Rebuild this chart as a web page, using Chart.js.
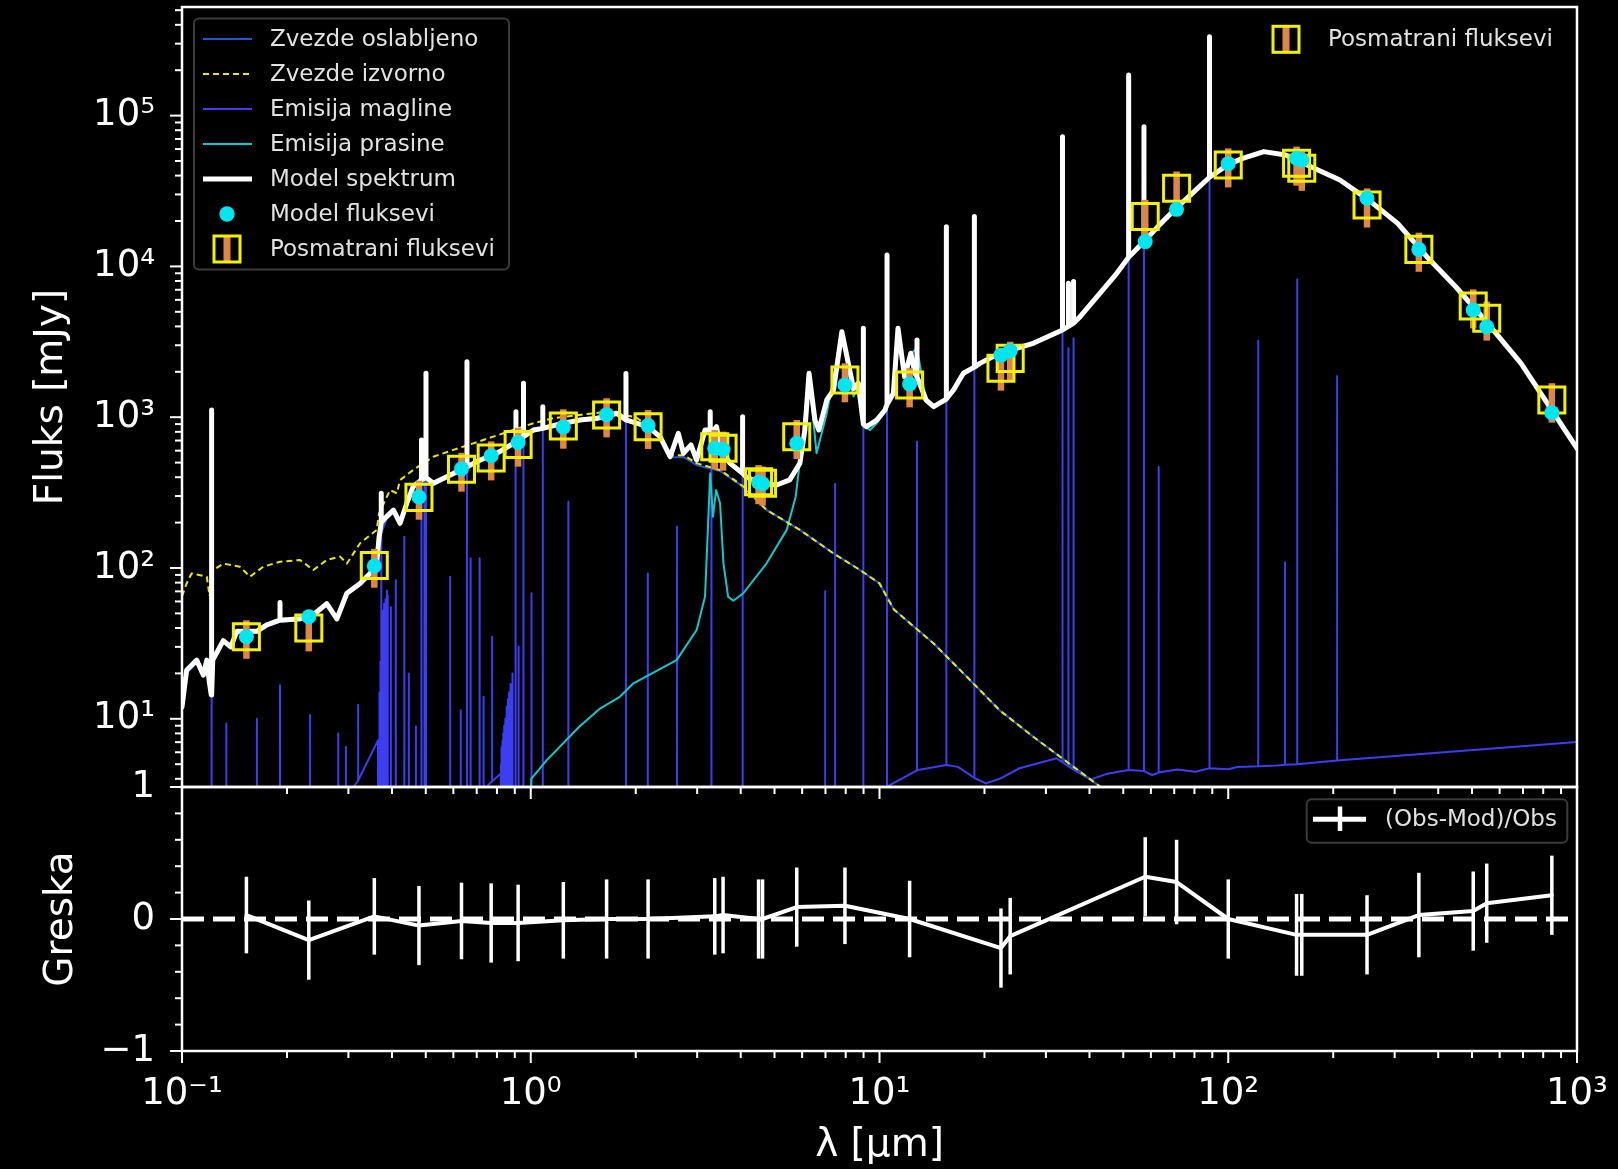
<!DOCTYPE html>
<html>
<head>
<meta charset="utf-8">
<title>SED</title>
<script src="https://cdn.jsdelivr.net/npm/chart.js@4.4.1/dist/chart.umd.min.js"></script>
<style>
  html, body { margin: 0; padding: 0; background: #000; }
  #wrap { position: relative; width: 1618px; height: 1169px; background: #000; overflow: hidden; }
  #sed { position: absolute; left: 0; top: 0; }
  #res { position: absolute; left: 0; top: 760px; }
</style>
</head>
<body>
<div id="wrap">
  <canvas id="sed" width="1618" height="800"></canvas>
  <canvas id="res" width="1618" height="409"></canvas>
</div>
<script>
const FAMILY = '"DejaVu Sans", "Liberation Sans", sans-serif';

// fotometrija: talasne duzine [um], posmatrano, model, greske
const obsLam   = [0.153, 0.231, 0.356, 0.478, 0.633, 0.77, 0.92, 1.24, 1.65, 2.17, 3.37, 3.56, 4.5, 4.62, 5.79, 7.96, 12.2, 22.3, 23.7, 57.8, 71.1, 100, 157, 162.5, 250, 352, 504, 551, 847];
const obsFlux  = [35, 40, 104, 294, 451, 536, 660, 873, 1035, 865, 637, 622, 373, 365, 743, 1766, 1637, 2110, 2455, 21400, 33000, 47000, 48300, 44700, 25500, 12970, 5460, 4530, 1300];
const obsErr   = [10, 12, 30, 85, 130, 155, 190, 255, 300, 250, 185, 180, 108, 106, 215, 510, 475, 610, 710, 6200, 9600, 13600, 14000, 13000, 7400, 3760, 1580, 1310, 380];
const modFlux  = [35, 47.5, 103, 296, 455, 555, 680, 860, 1040, 880, 622, 610, 370, 362, 671, 1637, 1660, 2580, 2760, 14600, 23900, 48000, 52100, 50800, 28300, 12970, 5140, 3980, 1072];

// (Obs-Mod)/Obs
const resVal = [0.03, -0.16, 0.02, -0.05, -0.015, -0.03, -0.03, -0.01, 0.0, 0.0, 0.02, 0.03, 0.0, 0.0, 0.09, 0.10, 0.0, -0.22, -0.13, 0.32, 0.28, 0.0, -0.12, -0.12, -0.12, 0.03, 0.06, 0.12, 0.18];
const resErr = [0.29, 0.30, 0.29, 0.30, 0.29, 0.30, 0.29, 0.29, 0.30, 0.30, 0.29, 0.29, 0.30, 0.30, 0.30, 0.29, 0.29, 0.30, 0.29, 0.30, 0.32, 0.30, 0.31, 0.31, 0.30, 0.32, 0.30, 0.30, 0.30];
const zeroLam = [0.1, 1000];
const zeroVal = [0, 0];

// model spektrum: kontinuum + linije
const modelContLam  = [0.1, 0.1031, 0.1102, 0.1151, 0.1178, 0.1197, 0.1213, 0.1225, 0.1313, 0.138, 0.1436, 0.1638, 0.175, 0.19, 0.218, 0.238, 0.26, 0.278, 0.297, 0.324, 0.346, 0.3616, 0.3675, 0.386, 0.404, 0.422, 0.441, 0.46, 0.5256, 0.574, 0.716, 0.80, 1.017, 1.13, 1.24, 1.38, 1.55, 1.764, 2.17, 2.35, 2.51, 2.65, 2.74, 2.88, 2.99, 3.16, 3.35, 3.41, 3.49, 3.73, 4.14, 4.54, 5.07, 5.53, 5.91, 6.11, 6.28, 6.53, 6.7, 7.06, 7.38, 7.8, 8.42, 8.69, 9.18, 9.82, 10.37, 10.96, 11.3, 11.8, 12.3, 12.64, 13.0, 13.6, 14.3, 16.3, 17.4, 19.4, 22.1, 27.6, 37.6, 42.9, 47.9, 63.7, 71.1, 79.4, 100, 110, 126.5, 146, 172.6, 209, 253, 306, 371, 449, 544, 691, 1000];
const modelContFlux = [12, 21, 24.5, 19.5, 24.5, 17.8, 14.4, 24.5, 33, 30, 38, 38, 42, 45, 46, 49, 58, 46, 68, 79, 92, 107, 161, 219, 242, 198, 268, 347, 365, 403, 520, 577, 822, 865, 912, 957, 984, 1062, 865, 741, 547, 782, 577, 655, 520, 822, 822, 865, 622, 494, 403, 365, 355, 384, 494, 822, 1955, 957, 822, 1300, 1514, 3690, 1550, 1680, 865, 957, 1117, 1439, 3890, 1854, 2655, 1955, 1700, 1300, 1175, 1514, 1955, 2275, 2655, 3090, 4645, 6637, 9000, 19000, 24500, 31000, 47500, 52000, 57700, 54800, 45800, 37400, 27500, 19300, 11600, 7330, 4420, 2275, 622];
const modelLineLam  = [0.1216, 0.191, 0.3727, 0.4861, 0.5007, 0.6563, 0.9069, 0.9531, 1.083, 1.875, 3.27, 4.05, 8.99, 10.51, 12.81, 15.55, 18.71, 33.48, 34.81, 36.01, 51.81, 57.32, 88.36];
const modelLineBase = [14.4, 45, 200, 384, 398, 470, 687, 743, 843, 960, 822, 425, 900, 1220, 1850, 1320, 2150, 3790, 4000, 4200, 11500, 14600, 39000];
const modelLinePeak = [1117, 59, 313, 706, 1955, 2335, 1087, 1680, 1175, 1950, 1087, 1007, 3890, 11900, 3250, 18300, 21400, 72400, 7730, 7940, 186000, 84300, 333000];

// zvezde oslabljeno
const attLam  = [0.1, 0.1031, 0.1102, 0.1151, 0.1178, 0.1197, 0.1216, 0.1225, 0.1313, 0.138, 0.1436, 0.1638, 0.175, 0.191, 0.218, 0.238, 0.26, 0.278, 0.297, 0.324, 0.346, 0.3616, 0.3675, 0.386, 0.404, 0.422, 0.441, 0.46, 0.4861, 0.5256, 0.574, 0.6563, 0.716, 0.80, 0.907, 0.953, 1.017, 1.13, 1.24, 1.38, 1.55, 1.764, 1.875, 2.17, 2.35, 2.51, 2.74, 3.0, 3.49, 4.07, 4.74, 5.91, 7.38, 8.79, 10, 11, 14.3, 17.8, 22.1, 27.6, 34.4, 42.9, 60, 1000];
const attFlux = [11.5, 20, 23.5, 19, 23.5, 17, 14, 23.5, 32, 29, 37, 37, 41, 44, 45, 47.5, 56, 45, 66, 77, 90, 104, 155, 212, 235, 192, 260, 337, 372, 355, 392, 455, 505, 560, 665, 720, 800, 845, 890, 935, 962, 1035, 940, 845, 725, 540, 545, 480, 440, 345, 243, 179, 125, 97, 79, 53, 31.6, 19, 11.4, 7.6, 5.2, 3.55, 1.6, 0.005];

// zvezde izvorno
const unLam  = [0.1, 0.1031, 0.1065, 0.1178, 0.12, 0.123, 0.1313, 0.1466, 0.1566, 0.171, 0.191, 0.218, 0.238, 0.26, 0.284, 0.297, 0.324, 0.3616, 0.3675, 0.395, 0.413, 0.422, 0.46, 0.5256, 0.60, 0.684, 0.781, 0.89, 1.017, 1.16, 1.38, 1.65, 2.0, 2.17, 2.35, 2.51, 2.74, 3.0, 3.49, 4.07, 4.74, 5.91, 7.38, 8.79, 10, 11, 14.3, 17.8, 22.1, 27.6, 34.4, 42.9, 60, 1000];
const unFlux = [65, 79, 92, 87.5, 65, 97, 107, 102, 87.5, 102, 110, 113, 97, 113, 119, 107, 146, 179, 231, 329, 313, 383, 447, 547, 607, 671, 743, 822, 912, 984, 1035, 1087, 1000, 880, 750, 560, 560, 494, 447, 347, 243, 179, 125, 97, 79, 53, 31.6, 19, 11.4, 7.6, 5.2, 3.55, 1.6, 0.005];

// emisija prasine
const dustLam  = [1.0, 1.003, 1.11, 1.38, 1.58, 1.80, 1.97, 2.62, 2.99, 3.16, 3.22, 3.27, 3.33, 3.40, 3.49, 3.57, 3.68, 3.81, 4.07, 4.74, 5.42, 5.75, 5.98, 6.11, 6.28, 6.6, 7.06, 7.8, 8.42, 8.69, 9.06, 9.4, 9.82, 10.37, 10.96, 11.3, 11.8, 12.3, 12.8, 13.6, 14.3, 15.55, 16.3, 17.4, 19.4, 22.1, 27.6, 33.5, 37.6, 42.9, 47.9, 51.8, 57.3, 63.7, 71.1, 79.4, 88.4, 100, 110, 126.5, 146, 172.6, 209, 253, 306, 371, 449, 544, 691, 1000];
const dustFlux = [1.5, 4.0, 5.3, 8.9, 11.7, 14, 17.2, 24.5, 38.8, 64.6, 179, 425, 219, 329, 269, 107, 64.6, 60.7, 68, 107, 179, 297, 638, 1040, 1850, 577, 1062, 3550, 1370, 1600, 865, 822, 912, 1090, 1410, 3830, 1820, 2600, 2900, 1280, 1160, 1300, 1500, 1940, 2260, 2640, 3080, 3770, 4630, 6620, 8980, 11450, 14550, 18950, 24450, 30950, 38950, 47450, 51950, 57650, 54750, 45750, 37350, 27450, 19250, 11550, 7300, 4400, 2265, 620];

// emisija magline: kontinuum + linije
const nebContLam  = [0.1, 0.29, 0.3097, 0.3646, 0.3650, 0.72, 0.755, 0.8204, 0.8210, 10.4, 13.0, 16.8, 20.2, 22.1, 25.2, 32.2, 40.3, 44.6, 60.5, 71.5, 80.5, 100, 106, 138, 1000];
const nebContFlux = [1, 2.5, 3.5, 7.2, 1, 2.6, 3.64, 4.33, 1, 1, 4.6, 4.8, 3.73, 4.0, 4.7, 5.47, 3.95, 4.3, 4.24, 4.61, 4.45, 4.63, 4.79, 4.9, 7.03];
const nebLineLam  = [0.1216, 0.134, 0.164, 0.191, 0.233, 0.2806, 0.2952, 0.320, 0.3660, 0.3664, 0.3669, 0.3676, 0.3683, 0.3692, 0.3704, 0.3712, 0.3722, 0.3727, 0.3734, 0.3750, 0.3771, 0.3798, 0.3835, 0.3869, 0.3889, 0.3970, 0.4102, 0.4340, 0.4471, 0.4686, 0.4861, 0.4959, 0.5007, 0.5876, 0.6300, 0.6563, 0.6724, 0.7136, 0.7325, 0.7751, 0.8215, 0.8225, 0.8240, 0.8265, 0.8300, 0.8345, 0.8395, 0.8455, 0.8530, 0.8600, 0.8670, 0.8750, 0.8865, 0.9016, 0.9069, 0.9229, 0.9531, 1.005, 1.083, 1.282, 1.875, 2.166, 2.626, 3.297, 4.052, 6.985, 7.46, 8.99, 10.51, 12.81, 15.55, 18.71, 33.48, 34.81, 36.01, 51.81, 57.32, 63.18, 88.36, 121.9, 145.5, 157.7, 205.2];
const nebLineBase = [1, 1, 1, 1, 1, 1, 1, 3.9, 1, 1, 1, 1, 1, 1, 1, 1, 1, 1, 1, 1, 1, 1, 1, 1, 1, 1, 1, 1, 1, 1, 1, 1, 1, 1, 1, 1, 1, 1, 3.0, 3.85, 1, 1, 1, 1, 1, 1, 1, 1, 1, 1, 1, 1, 1, 1, 1, 1, 1, 1, 1, 1, 1, 1, 1, 1, 1, 1, 1, 1, 3.55, 4.55, 4.94, 4.05, 5.15, 4.85, 4.6, 4.58, 4.5, 4.4, 4.7, 4.85, 4.95, 5.0, 5.3];
const nebLinePeak = [1117, 9.3, 10, 16.7, 10.6, 8, 6.5, 12.4, 4.5, 5.5, 7, 9, 12, 15, 19, 24, 30, 313, 38, 45, 52, 58, 62, 71, 66, 55, 83, 161, 20, 8.9, 706, 650, 1955, 87.5, 11.4, 2335, 116, 116, 14, 35, 5, 5.5, 6, 6.5, 7.2, 8, 9, 10, 12, 13.5, 15, 17, 20, 25, 1087, 30, 1680, 68, 1175, 275, 1950, 92, 188, 1050, 1007, 70, 360, 3500, 11900, 690, 18300, 21400, 72400, 2870, 3340, 186000, 84300, 470, 333000, 3210, 109, 8200, 1875];

// ose
const xTickValues = [0.1, 1, 10, 100, 1000];
const xTickLabels = ['10⁻¹', '10⁰', '10¹', '10²', '10³'];
const yTickValues = [10, 100, 1000, 10000, 100000];
const yTickLabels = ['10¹', '10²', '10³', '10⁴', '10⁵'];
const resTickValues = [-1, 0, 1];
const resTickLabels = ['−1', '0', '1'];
const resMinorTicks = [-0.8, -0.6, -0.4, -0.2, 0.2, 0.4, 0.6, 0.8];

const Y_MIN = 3.53, Y_MAX = 5.25e5;


function pairs(xs, ys) {
    return xs.map((x, i) => ({ x, y: ys[i] }));
}

// kontinuum + uske linije (svaka linija: osnova, vrh, osnova)
function withLines(cLam, cFlux, lLam, lBase, lPeak) {
    const pts = pairs(cLam, cFlux);
    lLam.forEach((l, i) => {
        pts.push({ x: l, y: lBase[i] }, { x: l, y: lPeak[i] }, { x: l, y: lBase[i] });
    });
    return pts.sort((a, b) => a.x - b.x);
}

function logMinors(lo, hi, min, max) {
    const out = [];
    for (let d = lo; d < hi * 1.001; d *= 10) {
        for (let m = 2; m < 10; m++) {
            const v = d * m;
            if (v > min && v < max) out.push(v);
        }
    }
    return out;
}

const C = {
    neb: '#3d3df2',
    att: '#1f55d0',
    dust: '#12c8cb',
    unatt: '#e8e800',
    model: '#ffffff',
    square: '#f2f200',
    errBar: '#dc8648',
    dot: '#00e6f0',
    text: '#e2e2e2',
    frame: '#3a3a3a'
};

const lineDs = { showLine: true, pointRadius: 0, pointHoverRadius: 0, tension: 0, fill: false, clip: 0,
                 borderJoinStyle: 'round', borderCapStyle: 'round' };


// okvir i podeoci
function makeFrame(xMajor, xMinor, yMajor, yMinor) {
    return {
        id: 'frameTicks',
        afterDraw(chart) {
            const { ctx, chartArea: a, scales } = chart;
            ctx.save();
            ctx.strokeStyle = '#fff';
            ctx.lineWidth = 2;
            ctx.lineCap = 'butt';
            const tick = (x0, y0, x1, y1) => {
                ctx.beginPath(); ctx.moveTo(x0, y0); ctx.lineTo(x1, y1); ctx.stroke();
            };
            xMajor.forEach(v => { const p = scales.x.getPixelForValue(v); tick(p, a.bottom, p, a.bottom + 12); });
            xMinor.forEach(v => { const p = scales.x.getPixelForValue(v); tick(p, a.bottom, p, a.bottom + 7); });
            yMajor.forEach(v => { const p = scales.y.getPixelForValue(v); tick(a.left, p, a.left - 12, p); });
            yMinor.forEach(v => { const p = scales.y.getPixelForValue(v); tick(a.left, p, a.left - 7, p); });
            ctx.lineWidth = 2.5;
            ctx.strokeRect(a.left, a.top, a.right - a.left, a.bottom - a.top);
            ctx.restore();
        }
    };
}

const errorBars = {
    id: 'errorBars',
    beforeDatasetDraw(chart, args) {
        const ds = chart.data.datasets[args.index];
        if (!ds.errors) return;
        const ctx = chart.ctx, a = chart.chartArea;
        const xs = chart.scales[args.meta.xAxisID], ys = chart.scales[args.meta.yAxisID];
        ctx.save();
        ctx.beginPath();
        ctx.rect(a.left, a.top, a.right - a.left, a.bottom - a.top);
        ctx.clip();
        ctx.strokeStyle = ds.errorColor;
        ctx.lineWidth = ds.errorWidth;
        ds.data.forEach((p, i) => {
            const px = xs.getPixelForValue(p.x);
            ctx.beginPath();
            ctx.moveTo(px, ys.getPixelForValue(p.y - ds.errors[i]));
            ctx.lineTo(px, ys.getPixelForValue(p.y + ds.errors[i]));
            ctx.stroke();
        });
        ctx.restore();
    }
};

function drawObsMarker(ctx, x, y) {
    ctx.fillStyle = C.errBar;
    ctx.fillRect(x - 3.5, y - 13, 7, 26);
    ctx.strokeStyle = C.square;
    ctx.lineWidth = 3;
    ctx.strokeRect(x - 13, y - 13, 26, 26);
}

const sedLegend = {
    id: 'sedLegend',
    afterDraw(chart) {
        const ctx = chart.ctx;
        const ds = chart.data.datasets;
        ctx.save();
        ctx.beginPath();
        ctx.roundRect(194, 18.5, 315, 251, 5);
        ctx.fillStyle = 'rgba(0,0,0,0.8)';
        ctx.fill();
        ctx.strokeStyle = C.frame;
        ctx.lineWidth = 2;
        ctx.stroke();

        const rows = [1, 3, 0, 2, 4, 6, 5];
        ctx.font = '23px ' + FAMILY;
        ctx.textBaseline = 'middle';
        rows.forEach((idx, r) => {
            const d = ds[idx];
            const y = 39 + r * 35;
            if (d.showLine) {
                ctx.strokeStyle = d.borderColor;
                ctx.lineWidth = d.borderWidth;
                ctx.setLineDash(d.borderDash || []);
                ctx.beginPath(); ctx.moveTo(203, y); ctx.lineTo(252, y); ctx.stroke();
                ctx.setLineDash([]);
            } else if (idx === 6) {
                ctx.fillStyle = C.dot;
                ctx.beginPath(); ctx.arc(227, y, 7.7, 0, Math.PI * 2); ctx.fill();
            } else {
                drawObsMarker(ctx, 227, y);
            }
            ctx.fillStyle = C.text;
            ctx.fillText(d.label, 270, y + 1.5);
        });

        // drugi opis, gore desno
        drawObsMarker(ctx, 1286, 39.3);
        ctx.fillStyle = C.text;
        ctx.fillText(ds[5].label, 1328, 40);
        ctx.restore();
    }
};

const resLegend = {
    id: 'resLegend',
    afterDraw(chart) {
        const ctx = chart.ctx;
        ctx.save();
        ctx.beginPath();
        ctx.roundRect(1306.7, 39.3, 260.6, 43.4, 5);
        ctx.fillStyle = 'rgba(0,0,0,0.8)';
        ctx.fill();
        ctx.strokeStyle = C.frame;
        ctx.lineWidth = 2;
        ctx.stroke();
        ctx.strokeStyle = '#fff';
        ctx.lineWidth = 5;
        ctx.beginPath(); ctx.moveTo(1313, 59.3); ctx.lineTo(1366, 59.3); ctx.stroke();
        ctx.lineWidth = 4.5;
        ctx.beginPath(); ctx.moveTo(1340, 46.5); ctx.lineTo(1340, 71); ctx.stroke();
        ctx.font = '23px ' + FAMILY;
        ctx.textBaseline = 'middle';
        ctx.fillStyle = C.text;
        ctx.fillText(chart.data.datasets[1].label, 1385, 60.5);
        ctx.restore();
    }
};


// gornji panel
new Chart(document.getElementById('sed'), {
    type: 'scatter',
    data: {
        datasets: [
            { ...lineDs, label: 'Emisija magline', order: 7,
              data: withLines(nebContLam, nebContFlux, nebLineLam, nebLineBase, nebLinePeak),
              borderColor: C.neb, borderWidth: 2 },
            { ...lineDs, label: 'Zvezde oslabljeno', order: 6,
              data: pairs(attLam, attFlux), borderColor: C.att, borderWidth: 2 },
            { ...lineDs, label: 'Emisija prasine', order: 5,
              data: pairs(dustLam, dustFlux), borderColor: C.dust, borderWidth: 2 },
            { ...lineDs, label: 'Zvezde izvorno', order: 4, borderCapStyle: 'butt',
              data: pairs(unLam, unFlux), borderColor: C.unatt, borderWidth: 2, borderDash: [6, 4] },
            { ...lineDs, label: 'Model spektrum', order: 3,
              data: withLines(modelContLam, modelContFlux, modelLineLam, modelLineBase, modelLinePeak),
              borderColor: C.model, borderWidth: 5 },
            { label: 'Posmatrani fluksevi', order: 2, showLine: false,
              data: pairs(obsLam, obsFlux),
              pointStyle: 'rect', pointRadius: 18.4, pointHoverRadius: 18.4,
              pointBorderColor: C.square, pointBackgroundColor: 'rgba(0,0,0,0)', pointBorderWidth: 3,
              errors: obsErr, errorColor: C.errBar, errorWidth: 6.5 },
            { label: 'Model fluksevi', order: 1, showLine: false,
              data: pairs(obsLam, modFlux),
              pointStyle: 'circle', pointRadius: 7.5, pointHoverRadius: 7.5,
              pointBackgroundColor: C.dot, pointBorderWidth: 0 }
        ]
    },
    options: {
        responsive: false,
        animation: false,
        devicePixelRatio: 1,
        layout: { autoPadding: false, padding: { top: 7, right: 41, left: 0, bottom: 0 } },
        plugins: { legend: { display: false }, tooltip: { enabled: false } },
        scales: {
            x: {
                type: 'logarithmic', min: 0.1, max: 1000, position: 'bottom',
                grid: { display: false }, border: { display: false },
                ticks: { display: false },
                afterFit(s) { s.height = 13; s.paddingLeft = 0; s.paddingRight = 0; }
            },
            y: {
                type: 'logarithmic', min: Y_MIN, max: Y_MAX, position: 'left',
                grid: { display: false, drawTicks: true, tickLength: 12 }, border: { display: false },
                afterBuildTicks(s) { s.ticks = yTickValues.map(v => ({ value: v })); },
                ticks: { callback: (v, i) => yTickLabels[i], color: '#fff', padding: 15, autoSkip: false,
                         font: { family: FAMILY, size: 37 } },
                title: { display: true, text: 'Fluks [mJy]', color: '#fff',
                         font: { family: FAMILY, size: 39 }, padding: { top: 28, bottom: 0 } },
                afterFit(s) { s.width = 182; s.paddingTop = 0; s.paddingBottom = 0; }
            }
        }
    },
    plugins: [errorBars, makeFrame(xTickValues, logMinors(0.1, 100, 0.1, 1000), yTickValues, logMinors(1, 1e5, Y_MIN, Y_MAX)), sedLegend]
});


// donji panel, odstupanja
new Chart(document.getElementById('res'), {
    type: 'scatter',
    data: {
        datasets: [
            { ...lineDs, label: 'nula', order: 2, borderCapStyle: 'butt',
              data: pairs(zeroLam, zeroVal), borderColor: '#fff', borderWidth: 5, borderDash: [22, 9] },
            { ...lineDs, label: '(Obs-Mod)/Obs', order: 1,
              data: pairs(obsLam, resVal), borderColor: '#fff', borderWidth: 4,
              errors: resErr, errorColor: '#fff', errorWidth: 3.5 }
        ]
    },
    options: {
        responsive: false,
        animation: false,
        devicePixelRatio: 1,
        layout: { autoPadding: false, padding: { top: 27, right: 41, left: 0, bottom: 0 } },
        plugins: { legend: { display: false }, tooltip: { enabled: false } },
        scales: {
            x: {
                type: 'logarithmic', min: 0.1, max: 1000, position: 'bottom',
                grid: { display: false, drawTicks: true, tickLength: 12 }, border: { display: false },
                afterBuildTicks(s) { s.ticks = xTickValues.map(v => ({ value: v })); },
                ticks: { callback: (v, i) => xTickLabels[i], color: '#fff', padding: 9, autoSkip: false,
                         maxRotation: 0, font: { family: FAMILY, size: 37 } },
                title: { display: true, text: 'λ [μm]', color: '#fff',
                         font: { family: FAMILY, size: 39 }, padding: { top: 0, bottom: 0 } },
                afterFit(s) { s.height = 118; s.paddingLeft = 0; s.paddingRight = 0; }
            },
            y: {
                type: 'linear', min: -1, max: 1, position: 'left',
                grid: { display: false, drawTicks: true, tickLength: 12 }, border: { display: false },
                afterBuildTicks(s) { s.ticks = resTickValues.map(v => ({ value: v })); },
                ticks: { callback: (v, i) => resTickLabels[i], color: '#fff', padding: 15, autoSkip: false,
                         font: { family: FAMILY, size: 37 } },
                title: { display: true, text: 'Greska', color: '#fff',
                         font: { family: FAMILY, size: 39 }, padding: { top: 38, bottom: 0 } },
                afterFit(s) { s.width = 182; s.paddingTop = 0; s.paddingBottom = 0; }
            }
        }
    },
    plugins: [errorBars, makeFrame(xTickValues, logMinors(0.1, 100, 0.1, 1000), resTickValues, resMinorTicks), resLegend]
});
</script>
</body>
</html>
